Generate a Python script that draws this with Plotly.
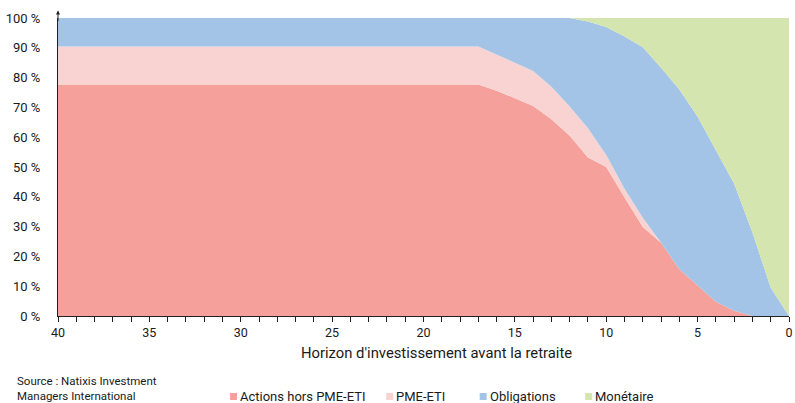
import plotly.graph_objects as go

years = list(range(40, -1, -1))
# values for years 40 .. 0
actions = [77.7]*24 + [75.6, 73.1, 70.5, 66.0, 60.5, 53.2, 50.0, 39.8, 29.9, 24.6, 15.7, 10.2, 4.8, 1.8, 0, 0, 0]
pme = [12.7]*24 + [12.2, 11.9, 11.7, 10.9, 9.8, 9.8, 4.0, 2.9, 3.1, 0, 0, 0, 0, 0, 0, 0, 0]
oblig_top = [100]*29 + [98.8, 97.0, 93.8, 90.2, 83.3, 76.0, 66.9, 55.6, 44.4, 28.0, 9.5, 0]
obligations = [round(t - a - p, 2) for t, a, p in zip(oblig_top, actions, pme)]
monetaire = [round(100 - t, 2) for t in oblig_top]

names = ["Actions hors PME-ETI", "PME-ETI", "Obligations", "Monétaire"]
colors = ["#F5A09A", "#F9D3D1", "#A3C4E6", "#D4E5B0"]
series = [actions, pme, obligations, monetaire]

x_ticks = [40, 35, 30, 25, 20, 15, 10, 5, 0]
y_ticks = list(range(0, 101, 10))
y_labels = [f"{v} %" for v in y_ticks]
x_title = "Horizon d'investissement avant la retraite"
source = "Source : Natixis Investment<br>Managers International"

FONT = "Roboto, sans-serif"
TXT = "#1a1a1a"

L, R, T, B = 58, 2, 18, 87
W, H = 795, 403
PW, PH = W - L - R, H - T - B


def px_to_paper_x(px):
    return (px - L) / PW


def py_to_paper_y(py):
    return (H - B - py) / PH


fig = go.Figure()
for n, c, s in zip(names, colors, series):
    fig.add_trace(go.Scatter(x=years, y=s, name=n, stackgroup="one", mode="lines",
                             line=dict(width=0, color=c), fillcolor=c, showlegend=False,
                             hoverinfo="x+y+name"))

fig.update_layout(
    width=W, height=H,
    margin=dict(l=L, r=R, t=T, b=B),
    paper_bgcolor="white", plot_bgcolor="white",
    font=dict(family=FONT, size=12, color=TXT),
    xaxis=dict(range=[40, 0], tickmode="array", tickvals=x_ticks, ticktext=[str(v) for v in x_ticks],
               showline=True, linecolor="#222", linewidth=1, ticks="outside", ticklen=5,
               tickcolor="#222", showgrid=False, zeroline=False, ticklabeloverflow="allow",
               minor=dict(tickmode="linear", tick0=0, dtick=1, ticks="outside", ticklen=5, tickcolor="#222"),
               tickfont=dict(size=12.5, family=FONT, color=TXT)),
    yaxis=dict(range=[0, 100], tickmode="array", tickvals=y_ticks, ticktext=y_labels,
               showline=True, linecolor="#222", linewidth=1, ticks="", showgrid=False,
               zeroline=False, ticklabelstandoff=14, tickfont=dict(size=13, family=FONT, color=TXT)),
)

# x-axis title
fig.add_annotation(x=px_to_paper_x(439), y=py_to_paper_y(353), xref="paper", yref="paper",
                   text=x_title, showarrow=False, xanchor="center", yanchor="middle",
                   font=dict(size=14.8, family=FONT, color=TXT))

# arrow at top of y axis
fig.add_annotation(x=0, y=1.025, xref="paper", yref="paper", ax=0, ay=12, text="",
                   showarrow=True, arrowhead=2, arrowsize=0.8, arrowwidth=1, arrowcolor="#222")

# manual legend
leg_x = [231, 388, 482, 588]
for px, n, c in zip(leg_x, names, colors):
    fig.add_shape(type="rect", xref="paper", yref="paper",
                  x0=px_to_paper_x(px), x1=px_to_paper_x(px + 7),
                  y0=py_to_paper_y(400), y1=py_to_paper_y(393),
                  fillcolor=c, line=dict(width=0))
    fig.add_annotation(x=px_to_paper_x(px + 8), y=py_to_paper_y(396), xref="paper", yref="paper",
                       text=n, showarrow=False, xanchor="left", yanchor="middle",
                       font=dict(size=13, family=FONT, color=TXT))

fig.add_annotation(x=px_to_paper_x(15), y=py_to_paper_y(372), xref="paper", yref="paper",
                   text=source, showarrow=False,
                   xanchor="left", yanchor="top", align="left",
                   font=dict(size=11.5, family=FONT, color=TXT))

fig.write_html("out.html", config={"displayModeBar": False},
               post_script="document.body.style.margin='0';document.body.style.overflow='hidden';")
